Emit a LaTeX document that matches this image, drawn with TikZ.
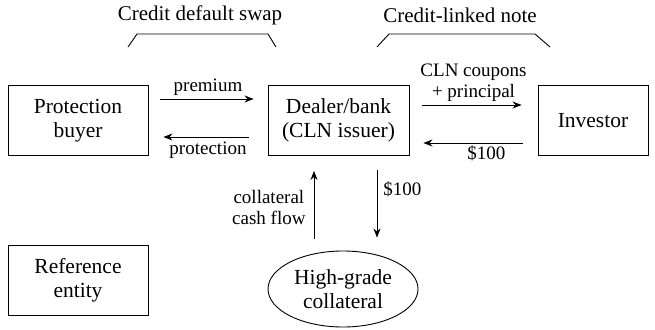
\documentclass[tikz,border=0pt]{standalone}
\usepackage{fontspec}
\setmainfont{Liberation Serif}
\usetikzlibrary{arrows.meta,shapes.geometric}

\begin{document}
\begin{tikzpicture}[x=1pt,y=-1pt,
    party/.style={draw,line width=0.9pt,minimum width=140pt,minimum height=70pt,
                  align=center,font=\fontsize{21.5}{24}\selectfont},
    flow/.style={line width=0.9pt,-{Stealth[length=9pt,width=7pt]}},
    lbl/.style={font=\fontsize{19}{21}\selectfont,align=center,inner sep=2pt}]
  \useasboundingbox (0,0) rectangle (655,329);

  % the parties
  \node[party] (buyer) at (78,120.5) {Protection\\buyer};
  \node[party,minimum width=141pt] (dealer) at (338.5,120.5) {Dealer/bank\\(CLN issuer)};
  \node[party,minimum width=110pt] (investor) at (593,120.5) {Investor};
  \node[party] (ref) at (78,280) {Reference\\entity};
  \node[draw,ellipse,line width=0.9pt,minimum width=150pt,minimum height=76pt,
        align=center,inner sep=0pt,font=\fontsize{21.5}{24}\selectfont]
        (coll) at (343,289) {High-grade\\collateral};

  % headings with their brackets
  \node[font=\fontsize{21}{23}\selectfont] (cds) at (200,15) {Credit default swap};
  \node[font=\fontsize{21}{23}\selectfont] (cln) at (460,15) {Credit-linked note};
  \draw[line width=0.9pt] (128,47) -- (137,34) -- (268,34) -- (276,47);
  \draw[line width=0.9pt] (377,47) -- (389,34) -- (535,34) -- (550,47);

  % flows
  \draw[flow,shorten <=12pt,shorten >=14pt] ([yshift=21.5pt]buyer.east) -- ([yshift=21.5pt]dealer.west)
    node[lbl,midway,above=1pt] {premium};
  \draw[flow,shorten <=19pt,shorten >=15pt] ([yshift=-16.5pt]dealer.west) -- ([yshift=-16.5pt]buyer.east)
    node[lbl,midway,below=2pt] {protection};
  \draw[flow,shorten <=13pt,shorten >=16pt] ([yshift=15.5pt]dealer.east) -- ([yshift=15.5pt]investor.west)
    node[lbl,midway,above=1pt] {CLN coupons\\+ principal};
  \draw[flow,shorten <=15pt,shorten >=14pt] ([yshift=-22.5pt]investor.west) -- ([yshift=-22.5pt]dealer.east)
    node[lbl,pos=0.4,below=0pt] {\$100};
  \draw[flow,shorten <=12pt,shorten >=15pt] ([xshift=-29pt]coll.north) -- ([xshift=-29pt]coll.north |- dealer.south)
    node[lbl,pos=0.45,left=6pt] {collateral\\cash flow};
  \draw[flow,shorten <=14pt,shorten >=13pt] ([xshift=34pt]coll.north |- dealer.south) -- ([xshift=34pt]coll.north)
    node[lbl,pos=0.35,right=4pt] {\$100};
\end{tikzpicture}
\end{document}
